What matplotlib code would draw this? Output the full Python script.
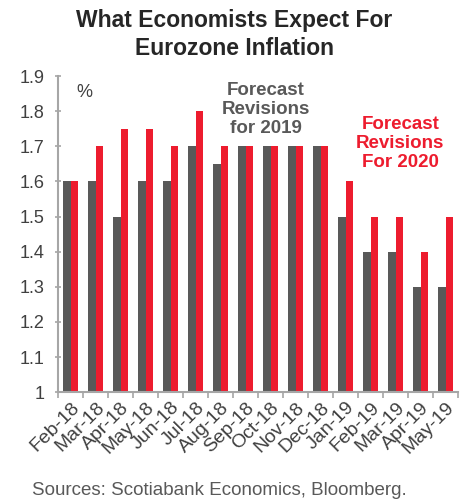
import matplotlib
matplotlib.use('Agg')
import matplotlib.pyplot as plt
import numpy as np

plt.rcParams['font.family'] = ['Liberation Sans', 'DejaVu Sans']

months = ['Feb-18', 'Mar-18', 'Apr-18', 'May-18', 'Jun-18', 'Jul-18', 'Aug-18', 'Sep-18',
          'Oct-18', 'Nov-18', 'Dec-18', 'Jan-19', 'Feb-19', 'Mar-19', 'Apr-19', 'May-19']
fc_2019 = [1.6, 1.6, 1.5, 1.6, 1.6, 1.7, 1.65, 1.7, 1.7, 1.7, 1.7, 1.5, 1.4, 1.4, 1.3, 1.3]
fc_2020 = [1.6, 1.7, 1.75, 1.75, 1.7, 1.8, 1.7, 1.7, 1.7, 1.7, 1.7, 1.6, 1.5, 1.5, 1.4, 1.5]

grey = '#595959'
red = '#ED1C2E'
axcol = '#A6A6A6'

fig = plt.figure(figsize=(4.69, 5.04), dpi=100)
ax = fig.add_axes([0.124, 0.222, 0.853, 0.627])

x = np.arange(len(months))
w = 0.3
ax.bar(x - w/2, np.array(fc_2019) - 1, w, bottom=1, color=grey)
ax.bar(x + w/2, np.array(fc_2020) - 1, w, bottom=1, color=red)

ax.set_xlim(-0.5, len(months) - 0.5)
ax.set_ylim(1, 1.9)
ax.set_yticks(np.arange(1, 1.91, 0.1))
ax.set_yticklabels(['1', '1.1', '1.2', '1.3', '1.4', '1.5', '1.6', '1.7', '1.8', '1.9'])
ax.set_xticks(x)
ax.set_xticklabels(months, rotation=45, ha='right', rotation_mode='anchor')
ax.set_xticks(np.arange(-0.5, len(months)), minor=True)
ax.tick_params(axis='x', which='major', length=0, pad=5, labelsize=14, labelcolor='#404040')
ax.tick_params(axis='x', which='minor', length=4, color=axcol, width=1.2)
ax.tick_params(axis='y', length=4, direction='inout', color=axcol, width=1.2,
               labelsize=13, labelcolor='#404040', pad=8)

for s in ['top', 'right']:
    ax.spines[s].set_visible(False)
for s in ['left', 'bottom']:
    ax.spines[s].set_color(axcol)
    ax.spines[s].set_linewidth(1.5)

ax.text(0.045, 0.975, '%', transform=ax.transAxes, fontsize=13, color='#404040', va='top')
ax.text(0.52, 0.98, 'Forecast\nRevisions\nfor 2019', transform=ax.transAxes, fontsize=13.5,
        color=grey, fontweight='bold', ha='center', va='top', linespacing=1.12)
ax.text(0.855, 0.875, 'Forecast\nRevisions\nFor 2020', transform=ax.transAxes, fontsize=13.5,
        color=red, fontweight='bold', ha='center', va='top', linespacing=1.18)

fig.text(0.5, 0.982, 'What Economists Expect For\nEurozone Inflation', ha='center', va='top',
         fontsize=16.5, fontweight='bold', color='#262626', linespacing=1.3)
fig.text(0.068, 0.01, 'Sources: Scotiabank Economics, Bloomberg.', fontsize=13.5,
         color='#595959', va='bottom')

fig.savefig('out.png', dpi=100)
